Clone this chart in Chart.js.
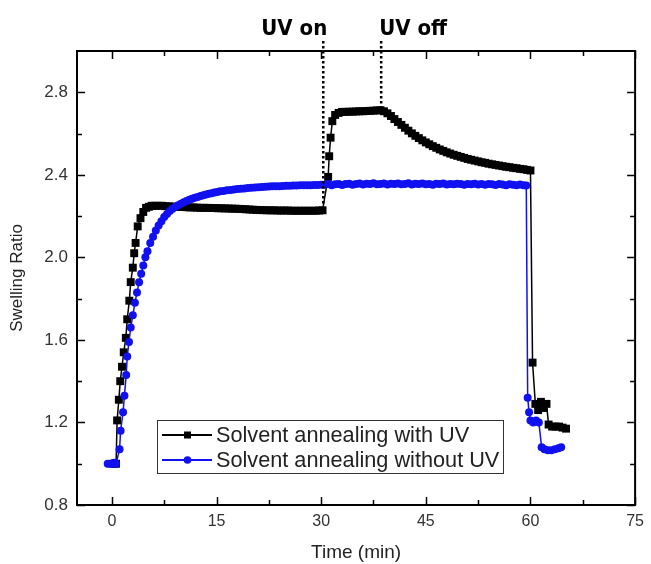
<!DOCTYPE html>
<html>
<head>
<meta charset="utf-8">
<script src="https://cdn.jsdelivr.net/npm/chart.js@4/dist/chart.umd.min.js"></script>
<style>
  html, body { margin: 0; padding: 0; background: #fff; }
  #wrap { width: 651px; height: 564px; }
</style>
</head>
<body>
<div id="wrap"><canvas id="chart" width="651" height="564"></canvas></div>
<script>
// Time (min) / swelling ratio
const withUvTime = [0.3, 0.6, 0.75, 1.0, 1.2, 1.45, 1.7, 2.0, 2.2, 2.5, 2.7, 3.0, 3.2, 3.4, 3.7, 4.1, 4.5, 4.9,
  5.3, 5.7, 6.2, 6.7, 7.2, 7.7, 8.2, 8.7, 9.2, 9.7, 10.2, 10.7, 11.2, 11.7, 12.2, 12.7, 13.2, 13.7, 14.2, 14.7,
  15.2, 15.7, 16.2, 16.7, 17.2, 17.7, 18.2, 18.7, 19.2, 19.7, 20.2, 20.7, 21.2, 21.7, 22.2, 22.7, 23.2, 23.7,
  24.2, 24.7, 25.2, 25.7, 26.2, 26.7, 27.2, 27.7, 28.2, 28.7, 29.2, 29.7, 30.2,
  31.0, 31.15, 31.35, 31.6, 32.0, 32.5, 33.0, 33.5, 34.0, 34.5, 35.0, 35.5, 36.0, 36.5, 37.0, 37.5, 38.0, 38.5,
  39.0, 39.5, 40.0, 40.5, 41.0, 41.5, 42.0, 42.5, 43.0, 43.5, 44.0, 44.5, 45.0, 45.5, 46.0, 46.5, 47.0, 47.5,
  48.0, 48.5, 49.0, 49.5, 50.0, 50.5, 51.0, 51.5, 52.0, 52.5, 53.0, 53.5, 54.0, 54.5, 55.0, 55.5, 56.0, 56.5,
  57.0, 57.5, 58.0, 58.5, 59.0, 59.5, 60.0,
  60.3, 60.7, 61.1, 61.5, 61.9, 62.3, 62.6, 63.1, 63.6, 64.1, 64.6, 65.1]
const withUvRatio = [1.00, 1.00, 1.21, 1.31, 1.40, 1.47, 1.54, 1.61, 1.70, 1.79, 1.88, 1.95, 2.02, 2.07, 2.15, 2.19, 2.22, 2.24,
  2.245, 2.25, 2.25, 2.25, 2.25, 2.248, 2.247, 2.246, 2.245, 2.245, 2.244, 2.243, 2.242, 2.242, 2.241, 2.240, 2.240, 2.240, 2.239, 2.239,
  2.238, 2.238, 2.237, 2.237, 2.236, 2.236, 2.235, 2.234, 2.233, 2.232, 2.231, 2.230, 2.229, 2.229, 2.228, 2.228, 2.228, 2.227,
  2.227, 2.227, 2.227, 2.226, 2.226, 2.226, 2.226, 2.226, 2.226, 2.226, 2.226, 2.227, 2.228,
  2.39, 2.49, 2.58, 2.66, 2.69, 2.70, 2.705, 2.705, 2.706, 2.706, 2.707, 2.708, 2.708, 2.709, 2.710, 2.711, 2.712, 2.713,
  2.708, 2.698, 2.685, 2.670, 2.656, 2.642, 2.628, 2.614, 2.601, 2.589, 2.578, 2.567, 2.557, 2.548, 2.539, 2.531, 2.523, 2.516,
  2.509, 2.503, 2.497, 2.492, 2.487, 2.482, 2.477, 2.473, 2.469, 2.465, 2.461, 2.458, 2.454, 2.451, 2.448, 2.445, 2.442, 2.439,
  2.437, 2.434, 2.432, 2.429, 2.427, 2.424, 2.421,
  1.49, 1.29, 1.26, 1.30, 1.27, 1.29, 1.19, 1.18, 1.18, 1.18, 1.175, 1.17]

const noUvTime = [-0.6, -0.3, 0.0, 0.3, 0.6, 1.1, 1.25, 1.6, 1.8, 2.05, 2.2, 2.45, 2.7, 3.0, 3.3, 3.6, 3.9, 4.2, 4.5, 4.8,
  5.1, 5.5, 5.9, 6.3, 6.7, 7.1, 7.5, 7.9, 8.3, 8.7, 9.1, 9.5, 9.9, 10.3, 10.7, 11.1, 11.5, 11.9, 12.3, 12.7, 13.1, 13.5,
  13.9, 14.3, 14.7, 15.1, 15.5, 16.0, 16.5, 17.0, 17.5, 18.0, 18.5, 19.0, 19.5, 20.0, 20.5, 21.0, 21.5, 22.0, 22.5,
  23.0, 23.5, 24.0, 24.5, 25.0, 25.5, 26.0, 26.5, 27.0, 27.5, 28.0, 28.5, 29.0, 29.5, 30.0,
  30.5, 31.0, 31.5, 32.0, 32.5, 33.0, 33.5, 34.0, 34.5, 35.0, 35.5, 36.0, 36.5, 37.0, 37.5, 38.0, 38.5, 39.0, 39.5,
  40.0, 40.5, 41.0, 41.5, 42.0, 42.5, 43.0, 43.5, 44.0, 44.5, 45.0, 45.5, 46.0, 46.5, 47.0, 47.5, 48.0, 48.5, 49.0,
  49.5, 50.0, 50.5, 51.0, 51.5, 52.0, 52.5, 53.0, 53.5, 54.0, 54.5, 55.0, 55.5, 56.0, 56.5, 57.0, 57.5, 58.0, 58.5,
  59.0, 59.4, 59.6, 59.8, 60.0, 60.4, 60.8, 61.2, 61.6, 62.0, 62.5, 63.0, 63.5, 64.0, 64.4]
const noUvRatio = [1.00, 1.00, 1.00, 1.005, 1.00, 1.07, 1.16, 1.25, 1.33, 1.43, 1.52, 1.59, 1.66, 1.72, 1.78, 1.83, 1.88, 1.92, 1.96, 2.00,
  2.03, 2.07, 2.10, 2.13, 2.155, 2.175, 2.195, 2.21, 2.225, 2.235, 2.245, 2.253, 2.26, 2.267, 2.273, 2.279, 2.284, 2.289, 2.293, 2.297, 2.301, 2.305,
  2.308, 2.311, 2.314, 2.317, 2.320, 2.322, 2.325, 2.327, 2.329, 2.331, 2.333, 2.334, 2.336, 2.337, 2.338, 2.340, 2.341, 2.342, 2.343,
  2.344, 2.345, 2.345, 2.346, 2.347, 2.347, 2.348, 2.348, 2.349, 2.350, 2.350, 2.350, 2.351, 2.351, 2.352,
  2.352, 2.355, 2.350, 2.354, 2.356, 2.351, 2.355, 2.357, 2.352, 2.356, 2.358, 2.353, 2.357, 2.355, 2.359, 2.354, 2.356, 2.358, 2.353,
  2.357, 2.355, 2.358, 2.354, 2.356, 2.359, 2.353, 2.357, 2.355, 2.358, 2.354, 2.356, 2.352, 2.357, 2.355, 2.358, 2.353, 2.356, 2.354,
  2.357, 2.355, 2.352, 2.356, 2.354, 2.357, 2.353, 2.355, 2.352, 2.356, 2.354, 2.351, 2.355, 2.353, 2.350, 2.354, 2.352, 2.349, 2.353,
  2.350, 2.348, 1.32, 1.25, 1.21, 1.20, 1.21, 1.20, 1.08, 1.07, 1.065, 1.065, 1.07, 1.075, 1.08]

const seriesLabels = ["Solvent annealing with UV", "Solvent annealing without UV"]
const timeTicks = [0, 7.5, 15, 22.5, 30, 37.5, 45, 52.5, 60, 67.5, 75]
const ratioTicks = [0.8, 1.0, 1.2, 1.4, 1.6, 1.8, 2.0, 2.2, 2.4, 2.6, 2.8]
// dotted markers: [time, lowest ratio reached, label]
const uvMarks = [[30.3, 2.26, "UV on"], [38.6, 2.72, "UV off"]]

const FONT = "'Liberation Sans', Arial, sans-serif"

const toPoints = (xs, ys) => xs.map((x, i) => ({ x: x, y: ys[i] }))

// frame, inward ticks, UV markers and the legend box
const decorations = {
  id: "decorations",
  afterDraw(chart) {
    const { ctx, chartArea: a, scales } = chart
    const xs = scales.x
    const ys = scales.y
    ctx.save()

    ctx.strokeStyle = "#000"
    ctx.lineWidth = 2
    ctx.strokeRect(a.left, a.top, a.right - a.left, a.bottom - a.top)

    ctx.lineWidth = 1.5
    ctx.beginPath()
    timeTicks.forEach((v) => {
      const px = Math.round(xs.getPixelForValue(v)) + 0.5
      const len = v % 15 === 0 ? 8 : 5
      ctx.moveTo(px, a.bottom); ctx.lineTo(px, a.bottom - len)
      ctx.moveTo(px, a.top); ctx.lineTo(px, a.top + len)
    })
    ratioTicks.forEach((v, i) => {
      const py = Math.round(ys.getPixelForValue(v)) + 0.5
      const len = i % 2 === 0 ? 8 : 5
      ctx.moveTo(a.left, py); ctx.lineTo(a.left + len, py)
      ctx.moveTo(a.right, py); ctx.lineTo(a.right - len, py)
    })
    ctx.stroke()

    // UV on / off dotted lines and labels
    ctx.lineWidth = 2.5
    ctx.setLineDash([2.5, 2.5])
    ctx.font = "bold 22px 'DejaVu Sans Condensed', 'DejaVu Sans', sans-serif"
    ctx.fillStyle = "#000"
    ctx.textBaseline = "alphabetic"
    uvMarks.forEach(([t, low, label], i) => {
      const px = xs.getPixelForValue(t)
      ctx.beginPath()
      ctx.moveTo(px, 41)
      ctx.lineTo(px, ys.getPixelForValue(low))
      ctx.stroke()
      ctx.textAlign = i === 0 ? "right" : "left"
      ctx.fillText(label, i === 0 ? px + 4 : px - 2, 35)
    })
    ctx.setLineDash([])

    // legend
    const lx = 157, ly = 420, lw = 346, lh = 53
    ctx.lineWidth = 1
    ctx.strokeStyle = "#333"
    ctx.fillStyle = "#fff"
    ctx.fillRect(lx, ly, lw, lh)
    ctx.strokeRect(lx + 0.5, ly + 0.5, lw, lh)
    const colors = ["#000000", "#1010f0"]
    ctx.font = "21.7px " + FONT
    ctx.textAlign = "left"
    ctx.textBaseline = "middle"
    seriesLabels.forEach((label, i) => {
      const cy = ly + 15 + i * 25
      ctx.strokeStyle = colors[i]
      ctx.fillStyle = colors[i]
      ctx.lineWidth = 2
      ctx.beginPath()
      ctx.moveTo(162, cy); ctx.lineTo(212, cy)
      ctx.stroke()
      if (i === 0) {
        ctx.fillRect(184, cy - 3.5, 7, 7)
      } else {
        ctx.beginPath()
        ctx.arc(187.5, cy, 3.8, 0, Math.PI * 2)
        ctx.fill()
      }
      ctx.fillStyle = "#222"
      ctx.fillText(label, 216, cy + 1)
    })

    ctx.restore()
  }
}

new Chart(document.getElementById("chart"), {
  type: "line",
  data: {
    datasets: [
      {
        label: seriesLabels[1],
        data: toPoints(noUvTime, noUvRatio),
        borderColor: "#1010f0",
        backgroundColor: "#1010f0",
        borderWidth: 1.5,
        pointStyle: "circle",
        pointRadius: 4,
        pointBorderWidth: 0,
        tension: 0
      },
      {
        label: seriesLabels[0],
        data: toPoints(withUvTime, withUvRatio),
        borderColor: "#000000",
        backgroundColor: "#000000",
        borderWidth: 1.5,
        pointStyle: "rect",
        pointRadius: 5.6,
        pointBorderWidth: 0,
        tension: 0
      }
    ]
  },
  options: {
    responsive: false,
    animation: false,
    events: [],
    layout: { padding: { top: 51, right: 14, left: 0, bottom: 0 } },
    plugins: {
      legend: { display: false },
      tooltip: { enabled: false }
    },
    scales: {
      x: {
        type: "linear",
        min: -5,
        max: 75,
        grid: { display: false, drawTicks: false },
        border: { display: false },
        afterBuildTicks: (scale) => { scale.ticks = timeTicks.map((v) => ({ value: v })) },
        afterFit: (scale) => { scale.height = 59 },
        ticks: {
          autoSkip: false,
          maxRotation: 0,
          padding: 7,
          color: "#333",
          font: { family: FONT, size: 16 },
          callback: (v) => (v % 15 === 0 ? String(v) : "")
        },
        title: {
          display: true,
          text: "Time (min)",
          color: "#222",
          font: { family: FONT, size: 19 },
          padding: { top: 0, bottom: 0 }
        }
      },
      y: {
        type: "linear",
        min: 0.8,
        max: 3.0,
        grid: { display: false, drawTicks: false },
        border: { display: false },
        afterBuildTicks: (scale) => { scale.ticks = ratioTicks.map((v) => ({ value: v })) },
        afterFit: (scale) => { scale.width = 77 },
        ticks: {
          autoSkip: false,
          padding: 9,
          color: "#333",
          font: { family: FONT, size: 17 },
          callback: (v, i) => (i % 2 === 0 ? v.toFixed(1) : "")
        },
        title: {
          display: true,
          text: "Swelling Ratio",
          color: "#222",
          font: { family: FONT, size: 17 },
          padding: { top: 7, bottom: 0 }
        }
      }
    }
  },
  plugins: [decorations]
})
</script>
</body>
</html>
